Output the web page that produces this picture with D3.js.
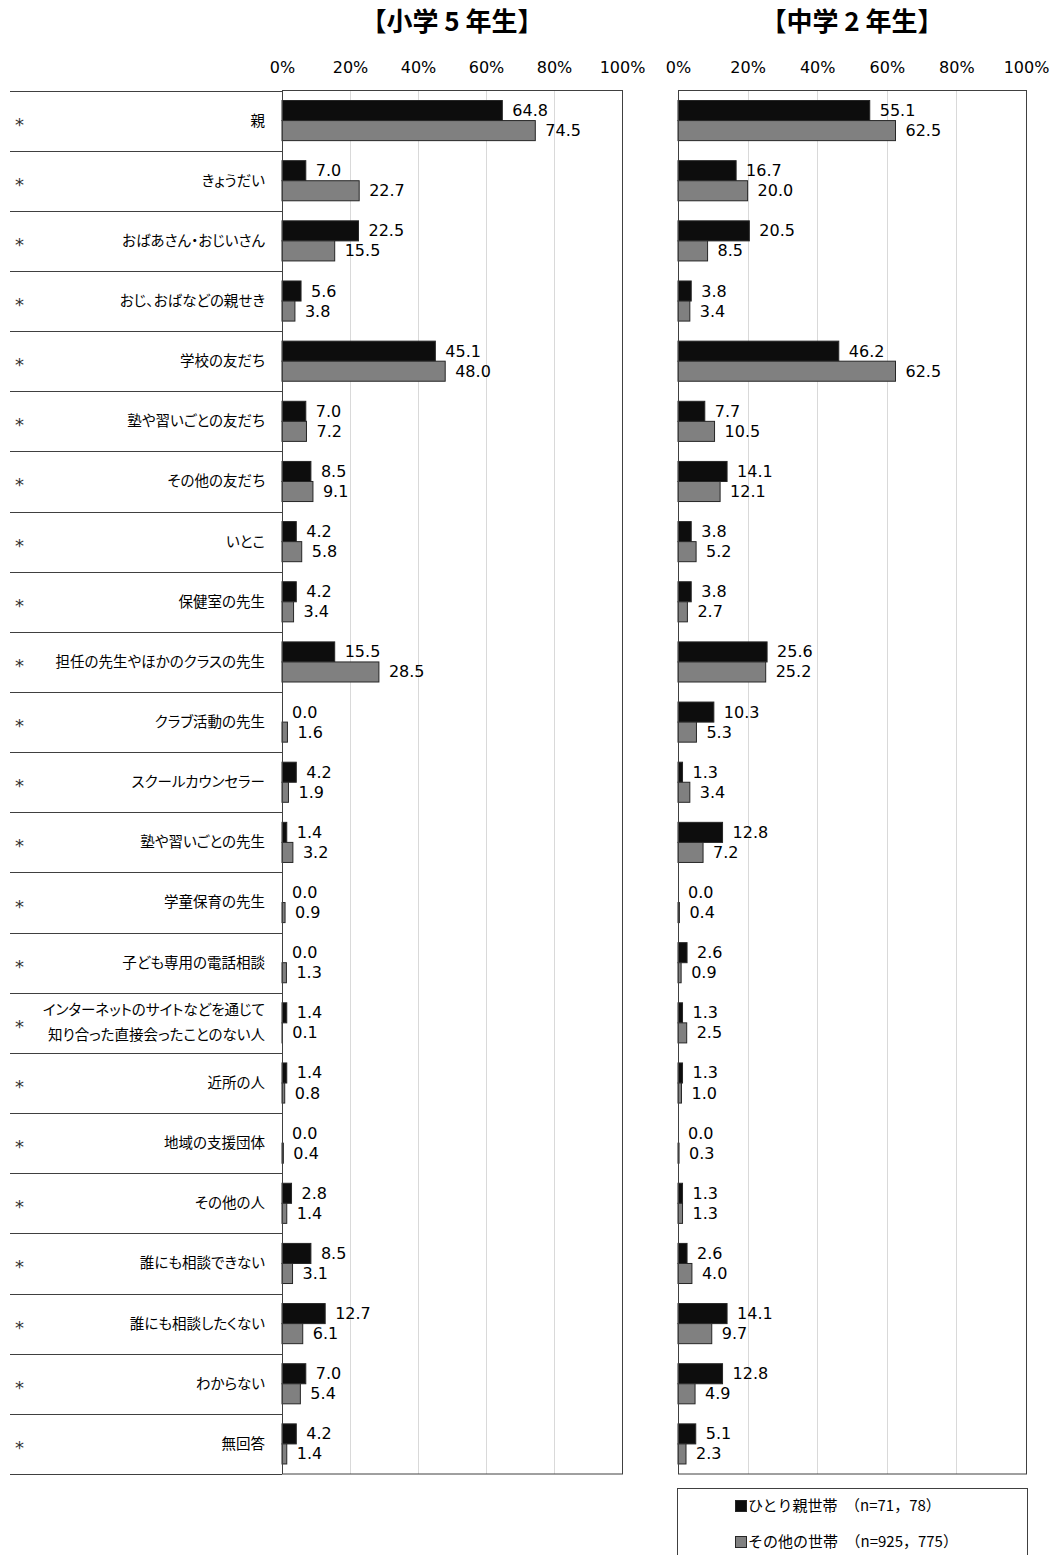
<!DOCTYPE html>
<html><head><meta charset="utf-8">
<script src="https://cdn.jsdelivr.net/npm/d3@7"></script>
<style>
body{margin:0;background:#fff;}
svg{display:block;}
.jp{font-family:"Noto Sans CJK JP","Noto Sans",sans-serif;font-feature-settings:"palt";}
.jpl{font-family:"Noto Sans CJK JP","Noto Sans",sans-serif;}
.num{font-family:"DejaVu Sans",Verdana,sans-serif;}
</style></head>
<body>
<script>
const categories = ["親","きょうだい","おばあさん・おじいさん","おじ、おばなどの親せき","学校の友だち","塾や習いごとの友だち","その他の友だち","いとこ","保健室の先生","担任の先生やほかのクラスの先生","クラブ活動の先生","スクールカウンセラー","塾や習いごとの先生","学童保育の先生","子ども専用の電話相談","インターネットのサイトなどを通じて\n知り合った直接会ったことのない人","近所の人","地域の支援団体","その他の人","誰にも相談できない","誰にも相談したくない","わからない","無回答"];
const marks = ["*","*","*","*","*","*","*","*","*","*","*","*","*","*","*","*","*","*","*","*","*","*","*"];
const elemSingle = [64.8,7.0,22.5,5.6,45.1,7.0,8.5,4.2,4.2,15.5,0.0,4.2,1.4,0.0,0.0,1.4,1.4,0.0,2.8,8.5,12.7,7.0,4.2];
const elemOther  = [74.5,22.7,15.5,3.8,48.0,7.2,9.1,5.8,3.4,28.5,1.6,1.9,3.2,0.9,1.3,0.1,0.8,0.4,1.4,3.1,6.1,5.4,1.4];
const midSingle  = [55.1,16.7,20.5,3.8,46.2,7.7,14.1,3.8,3.8,25.6,10.3,1.3,12.8,0.0,2.6,1.3,1.3,0.0,1.3,2.6,14.1,12.8,5.1];
const midOther   = [62.5,20.0,8.5,3.4,62.5,10.5,12.1,5.2,2.7,25.2,5.3,3.4,7.2,0.4,0.9,2.5,1.0,0.3,1.3,4.0,9.7,4.9,2.3];
const panelTitles = ["【小学 5 年生】","【中学 2 年生】"];
const tickValues = [0,20,40,60,80,100];
const seriesNames = ["ひとり親世帯　（n=71，78）","その他の世帯　（n=925，775）"];
const seriesColors = ["#0d0d0d","#808080"];

const W=1053,H=1555;
const svg=d3.select("body").append("svg").attr("width",W).attr("height",H);

const y=d3.scaleBand().domain(d3.range(categories.length)).range([90.5,1474]).paddingInner(0).paddingOuter(0);
const ys=d3.scaleBand().domain([0,1]).range([0,y.bandwidth()]).paddingInner(0).paddingOuter(0.5);

const lineColor="#404040";
const bounds=d3.range(categories.length+1).map(i=>i===categories.length?1474:y(i));
svg.append("g").selectAll("line").data(bounds).join("line")
  .attr("x1",10).attr("x2",282).attr("y1",d=>Math.round(d)+0.5).attr("y2",d=>Math.round(d)+0.5)
  .attr("stroke",lineColor).attr("stroke-width",1);

const lab=svg.append("g").attr("class","jp").attr("font-size",14.5).attr("fill","#000");
categories.forEach((c,i)=>{
  const cy=y(i)+y.bandwidth()/2;
  lab.append("text").attr("class","num").attr("x",15).attr("y",cy+10).attr("font-size",18).attr("fill","#333").text(marks[i]);
  const parts=c.split("\n");
  parts.forEach((p,k)=>{
    const off=(k-(parts.length-1)/2)*25;
    lab.append("text").attr("x",265).attr("y",cy+off+1).attr("dominant-baseline","middle")
      .attr("text-anchor","end").text(p);
  });
});

const panels=[
  {x0:282,x1:622,a:elemSingle,b:elemOther,title:panelTitles[0]},
  {x0:678,x1:1026,a:midSingle,b:midOther,title:panelTitles[1]}
];
panels.forEach(p=>{
  const x=d3.scaleLinear().domain([0,100]).range([p.x0,p.x1]);
  const g=svg.append("g");
  g.append("g").selectAll("line").data(tickValues.slice(1,-1)).join("line")
    .attr("x1",d=>Math.round(x(d))+0.5).attr("x2",d=>Math.round(x(d))+0.5)
    .attr("y1",90.5).attr("y2",1474).attr("stroke","#d9d9d9").attr("stroke-width",1);
  const ax=g.append("g").attr("transform","translate(0,76)")
    .call(d3.axisTop(x).tickValues(tickValues).tickSize(0).tickFormat(d=>d+"%"));
  ax.select(".domain").remove();
  ax.selectAll("text").attr("font-family","DejaVu Sans, Verdana, sans-serif").attr("font-size",16).attr("fill","#000").attr("dy","0");
  g.append("text").attr("x",(p.x0+p.x1)/2).attr("y",31).attr("text-anchor","middle")
    .attr("font-family","Noto Sans CJK JP, sans-serif").attr("font-weight","bold").attr("font-size",26).text(p.title);
  [p.a,p.b].forEach((vals,s)=>{
    g.append("g").selectAll("rect").data(vals).join("rect")
      .attr("x",x(0)).attr("y",(d,i)=>y(i)+ys(s))
      .attr("width",d=>x(d)-x(0)).attr("height",ys.bandwidth())
      .attr("fill",seriesColors[s]).attr("stroke","#262626").attr("stroke-width",d=>d>0?1:0);
    g.append("g").selectAll("text").data(vals).join("text").attr("class","num")
      .attr("x",d=>x(d)+10).attr("y",(d,i)=>y(i)+ys(s)+ys.bandwidth()/2+1)
      .attr("dominant-baseline","middle").attr("font-size",16).attr("fill","#000")
      .text(d=>d.toFixed(1));
  });
  g.append("rect").attr("x",p.x0+0.5).attr("y",90.5).attr("width",p.x1-p.x0).attr("height",1474-90.5)
    .attr("fill","none").attr("stroke",lineColor).attr("stroke-width",1);
});

const lg=svg.append("g");
lg.append("rect").attr("x",677.5).attr("y",1488.5).attr("width",350).attr("height",100)
  .attr("fill","#fff").attr("stroke",lineColor).attr("stroke-width",1);
seriesNames.forEach((n,i)=>{
  const cy=1506+i*36;
  lg.append("rect").attr("x",735.5).attr("y",cy-5.5).attr("width",11).attr("height",11)
    .attr("fill",seriesColors[i]).attr("stroke","#262626");
  lg.append("text").attr("class","jpl").attr("x",748).attr("y",cy+1).attr("dominant-baseline","middle")
    .attr("font-size",15).text(n);
});
</script>
</body></html>
